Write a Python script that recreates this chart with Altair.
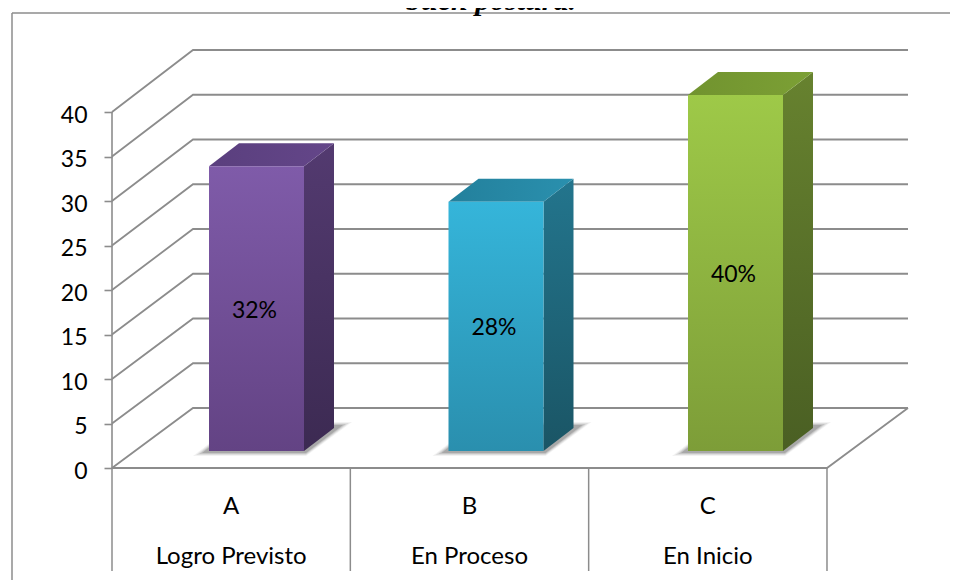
import altair as alt
import pandas as pd

# ---- values ----
letters = ["A", "B", "C"]
levels = ["Logro Previsto", "En Proceso", "En Inicio"]
values = [32, 28, 40]
value_labels = ["32%", "28%", "40%"]
y_ticks = [0, 5, 10, 15, 20, 25, 30, 35, 40]
front_colors = [("#7F5BA9", "#634384"), ("#35B5DA", "#2A8FAE"), ("#9EC948", "#7D9D38")]
side_colors = [("#533A70", "#3C2A52"), ("#23758D", "#1A5565"), ("#67822F", "#4A5F23")]
top_colors = [("#5A3F7E", "#644689"), ("#23809C", "#2A90AE"), ("#71932F", "#7CA035")]

# ---- layout (page pixels -> scale units) ----
W, H = 942, 572
ORIGIN_X, ORIGIN_Y = 104, 460     # category 0 / value 0 within the plot area
PX_X, PX_Y = 238.33, 8.9          # pixels per category, per value unit
xs = alt.Scale(domain=[-ORIGIN_X / PX_X, (W - ORIGIN_X) / PX_X], nice=False, zero=False)
ys = alt.Scale(domain=[(ORIGIN_Y - H) / PX_Y, ORIGIN_Y / PX_Y], nice=False, zero=False)
ux = lambda px: px / PX_X
uy = lambda px: px / PX_Y

GRID = "#8C8C8C"
WALL_DX, WALL_DY, WALL_BACK = ux(81), uy(60), 8.95 / 8.9
BAR_X0, BAR_W, BAR_STEP = ux(97), ux(95), ux(239.5)
BAR_DX, BAR_DY = ux(30), uy(23)
BASE = uy(17)

y_axis = alt.Axis(values=y_ticks, offset=-ORIGIN_X, domain=False, grid=False, title=None,
                  tickColor=GRID, tickSize=8, tickWidth=1.6, labelPadding=17, labelOffset=3,
                  labelFont="Lato", labelFontSize=23, labelColor="#000000")


def X(f):
    return alt.X(f, type="quantitative", scale=xs, axis=None, stack=None)


def Y(f):
    return alt.Y(f, type="quantitative", scale=ys, axis=y_axis, stack=None)


def grad(c0, c1, vertical=True):
    return alt.LinearGradient(
        gradient="linear",
        stops=[alt.GradientStop(color=c0, offset=0), alt.GradientStop(color=c1, offset=1)],
        x1=0, y1=0, x2=0 if vertical else 1, y2=1 if vertical else 0,
    )


# ---- walls and floor ----
wall_rows = []
for t in y_ticks:
    back = t * WALL_BACK + WALL_DY
    wall_rows += [
        {"t": t, "i": 0, "x": 0, "y": t},
        {"t": t, "i": 1, "x": WALL_DX, "y": back},
        {"t": t, "i": 2, "x": 3 + WALL_DX, "y": back},
    ]
wall_rows += [
    {"t": -1, "i": 0, "x": 0, "y": 0},
    {"t": -1, "i": 1, "x": 3, "y": 0},
    {"t": -1, "i": 2, "x": 3 + WALL_DX, "y": WALL_DY},
]
walls = (
    alt.Chart(pd.DataFrame(wall_rows))
    .mark_line(color=GRID, strokeWidth=1.8, clip=False)
    .encode(x=X("x"), y=Y("y"), detail="t:N", order="i:Q")
)

y_axis_line = (
    alt.Chart(pd.DataFrame({"x": [0], "y": [0], "y2": [y_ticks[-1]]}))
    .mark_rule(color=GRID, strokeWidth=1.6)
    .encode(x=X("x"), y=Y("y"), y2="y2:Q")
)

cat_lines = (
    alt.Chart(pd.DataFrame({"x": [0, 1, 2, 3], "y": [0] * 4, "y2": [uy(-103)] * 4}))
    .mark_rule(color=GRID, strokeWidth=1.5)
    .encode(x=X("x"), y=Y("y"), y2="y2:Q")
)

layers = [walls, y_axis_line, cat_lines]

# ---- frame ----
layers += [
    alt.Chart(pd.DataFrame({"a": [0]})).mark_rule(color=GRID, strokeWidth=1.5)
    .encode(x=alt.value(4), x2=alt.value(W), y=alt.value(5)),
    alt.Chart(pd.DataFrame({"a": [0]})).mark_rule(color=GRID, strokeWidth=1.5)
    .encode(x=alt.value(4), y=alt.value(5), y2=alt.value(H)),
]

# ---- bars ----
bar_x0 = [BAR_X0 + k * BAR_STEP for k in range(len(values))]
for k, v in enumerate(values):
    x0 = bar_x0[k]
    x1 = x0 + BAR_W
    top = BASE + v

    # soft shadow on the floor
    for grow, op in ((9, 0.08), (6, 0.12), (3, 0.18), (0, 0.26)):
        sh = pd.DataFrame({
            "y": [BASE - uy(2 + grow / 3), BASE + uy(26 + grow / 3)],
            "x": [x0 - ux(7 + grow), x0 + ux(28)],
            "x2": [x1 + ux(2), x1 + BAR_DX + ux(9 + grow)],
        })
        layers.append(
            alt.Chart(sh).mark_area(orient="horizontal", color="#555555", opacity=op)
            .encode(y=Y("y"), x=X("x"), x2="x2:Q")
        )

    # side face
    side = pd.DataFrame({
        "x": [x1, x1 + BAR_DX],
        "y": [BASE, BASE + BAR_DY],
        "y2": [top, top + BAR_DY],
    })
    layers.append(
        alt.Chart(side).mark_area(fill=grad(side_colors[k][0], side_colors[k][1]))
        .encode(x=X("x"), y=Y("y"), y2="y2:Q")
    )
    # top face
    roof = pd.DataFrame({
        "y": [top, top + BAR_DY],
        "x": [x0, x0 + BAR_DX],
        "x2": [x1, x1 + BAR_DX],
    })
    layers.append(
        alt.Chart(roof).mark_area(orient="horizontal", fill=grad(top_colors[k][0], top_colors[k][1], False))
        .encode(y=Y("y"), x=X("x"), x2="x2:Q")
    )
    # front face
    front = pd.DataFrame({"x": [x0], "x2": [x1], "y": [BASE], "y2": [top]})
    layers.append(
        alt.Chart(front).mark_rect(fill=grad(front_colors[k][0], front_colors[k][1]))
        .encode(x=X("x"), x2="x2:Q", y=Y("y"), y2="y2:Q")
    )

# ---- texts ----
TEXT = dict(font="Lato", color="#000000", align="center", baseline="middle")
val_df = pd.DataFrame({
    "x": [bar_x0[k] + BAR_W / 2 - ux(2) for k in range(3)],
    "y": [BASE + v / 2 - uy(2) for v in values],
    "t": value_labels,
})
layers.append(alt.Chart(val_df).mark_text(fontSize=23, **TEXT).encode(x=X("x"), y=Y("y"), text="t:N"))

cat_df = pd.DataFrame({
    "x": [k + 0.5 for k in range(3)] * 2,
    "y": [uy(-39)] * 3 + [uy(-89)] * 3,
    "t": letters + levels,
})
layers.append(alt.Chart(cat_df).mark_text(fontSize=24, **TEXT).encode(x=X("x"), y=Y("y"), text="t:N"))

layers.append(
    alt.Chart(pd.DataFrame({"t": ["buen postura."]}))
    .mark_text(font="Liberation Serif", fontSize=30, fontWeight="bold", fontStyle="italic",
               color="#000000", align="center", baseline="alphabetic")
    .encode(x=alt.value(483), y=alt.value(2), text="t:N")
)

chart = (
    alt.layer(*layers)
    .properties(width=W, height=H, padding=0, autosize=alt.AutoSizeParams(type="none"),
                background="#FFFFFF")
    .configure_view(stroke=None)
)

chart.save("out.html", embed_options={"renderer": "svg", "actions": False})
